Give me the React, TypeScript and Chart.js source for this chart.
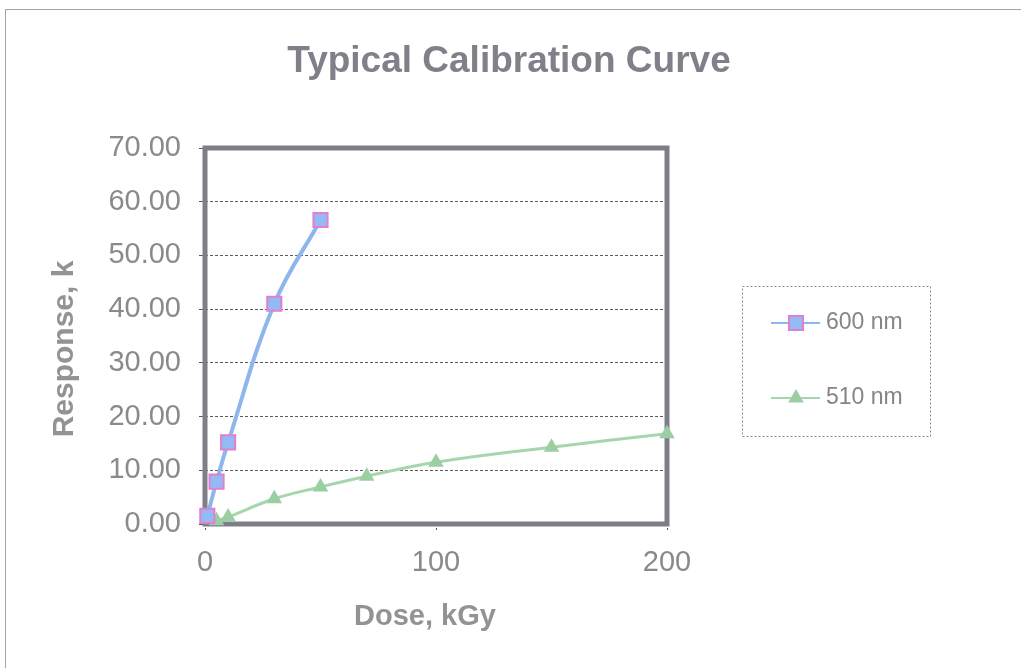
import { useEffect, useRef } from "react";
import { Chart, registerables } from "chart.js";

Chart.register(...registerables);

// ---------- data ----------
const chartTitle = "Typical Calibration Curve";
const xAxisTitle = "Dose, kGy";
const yAxisTitle = "Response, k";
const seriesLabels = ["600 nm", "510 nm"];

const dose600 = [1, 5, 10, 30, 50];
const resp600 = [1.5, 7.9, 15.2, 41.0, 56.6];

const dose510 = [5, 10, 30, 50, 70, 100, 150, 200];
const resp510 = [0.6, 1.3, 4.7, 6.9, 8.9, 11.5, 14.3, 16.8];

const xTickValues = [0, 100, 200];
const yTickValues = [0, 10, 20, 30, 40, 50, 60, 70];

// ---------- styles ----------
const FONT = "'Liberation Sans', Arial, Helvetica, sans-serif";
const BLUE_LINE = "#8fb6ec";
const BLUE_FILL = "#93baf2";
const PINK = "#e27fcf";
const GREEN_LINE = "#a6d6ae";
const GREEN_FILL = "#9ccea3";

function drawMarker(ctx: CanvasRenderingContext2D, style: string, x: number, y: number, r: number, fill: string, stroke: string, bw: number) {
  ctx.save();
  ctx.beginPath();
  if (style === "rect") {
    const s = r * Math.SQRT1_2;
    ctx.rect(x - s, y - s, 2 * s, 2 * s);
  } else {
    for (let i = 0; i < 3; i++) {
      const a = (i * 2 * Math.PI) / 3;
      const px = x + Math.sin(a) * r;
      const py = y - Math.cos(a) * r;
      if (i === 0) ctx.moveTo(px, py);
      else ctx.lineTo(px, py);
    }
    ctx.closePath();
  }
  ctx.fillStyle = fill;
  ctx.fill();
  if (bw > 0) {
    ctx.lineWidth = bw;
    ctx.strokeStyle = stroke;
    ctx.stroke();
  }
  ctx.restore();
}

const decorPlugin = {
  id: "decor",
  beforeDraw(chart: any) {
    const ctx: CanvasRenderingContext2D = chart.ctx;
    ctx.save();
    ctx.fillStyle = "#ffffff";
    ctx.fillRect(0, 0, chart.width, chart.height);
    // outer frame
    ctx.strokeStyle = "#a4a4a4";
    ctx.lineWidth = 1;
    ctx.strokeRect(5.5, 9.5, chart.width + 20, chart.height + 20);
    ctx.restore();
  },
  beforeDatasetsDraw(chart: any) {
    const ctx: CanvasRenderingContext2D = chart.ctx;
    const a = chart.chartArea;
    ctx.save();
    ctx.strokeStyle = "#7e7e88";
    ctx.lineWidth = 5;
    ctx.strokeRect(a.left, a.top, a.right - a.left, a.bottom - a.top);
    ctx.restore();
  },
  afterDraw(chart: any) {
    const ctx: CanvasRenderingContext2D = chart.ctx;
    ctx.save();
    // title
    ctx.fillStyle = "#80808a";
    ctx.font = `bold 37px ${FONT}`;
    ctx.textAlign = "center";
    ctx.textBaseline = "alphabetic";
    ctx.fillText(chartTitle, 509, 72);
    // x axis title
    ctx.fillStyle = "#939393";
    ctx.font = `bold 29px ${FONT}`;
    ctx.fillText(xAxisTitle, 425, 625);
    // y axis title
    ctx.save();
    ctx.translate(65, 349);
    ctx.rotate(-Math.PI / 2);
    ctx.font = `bold 30px ${FONT}`;
    ctx.textBaseline = "middle";
    ctx.fillText(yAxisTitle, 0, 0);
    ctx.restore();

    // legend
    ctx.setLineDash([2, 2]);
    ctx.strokeStyle = "#8a8a8a";
    ctx.lineWidth = 1;
    ctx.strokeRect(742.5, 286.5, 188, 150);
    ctx.setLineDash([]);
    const rows = [323, 398];
    chart.data.datasets.forEach((ds: any, i: number) => {
      const y = rows[i];
      ctx.strokeStyle = ds.borderColor;
      ctx.lineWidth = 2;
      ctx.beginPath();
      ctx.moveTo(771, y);
      ctx.lineTo(820, y);
      ctx.stroke();
      drawMarker(ctx, ds.pointStyle, 796, y, ds.pointRadius, ds.pointBackgroundColor, ds.pointBorderColor, ds.pointBorderWidth);
      ctx.fillStyle = "#858585";
      ctx.font = `23px ${FONT}`;
      ctx.textAlign = "left";
      ctx.textBaseline = "middle";
      ctx.fillText(ds.label, 826, y);
    });
    ctx.restore();
  },
};

export default function App() {
  const ref = useRef<HTMLCanvasElement | null>(null);

  useEffect(() => {
    if (!ref.current) return;
    const chart = new Chart(ref.current, {
      type: "line",
      data: {
        datasets: [
          {
            label: seriesLabels[0],
            data: dose600.map((d, i) => ({ x: d, y: resp600[i] })),
            borderColor: BLUE_LINE,
            backgroundColor: BLUE_FILL,
            borderWidth: 4,
            pointStyle: "rect",
            pointRadius: 10,
            pointHoverRadius: 10,
            pointBackgroundColor: BLUE_FILL,
            pointBorderColor: PINK,
            pointBorderWidth: 2,
            tension: 0.4,
            clip: false,
          } as any,
          {
            label: seriesLabels[1],
            data: dose510.map((d, i) => ({ x: d, y: resp510[i] })),
            borderColor: GREEN_LINE,
            backgroundColor: GREEN_FILL,
            borderWidth: 3,
            pointStyle: "triangle",
            pointRadius: 9,
            pointHoverRadius: 9,
            pointBackgroundColor: GREEN_FILL,
            pointBorderColor: GREEN_FILL,
            pointBorderWidth: 0,
            tension: 0.4,
            clip: false,
          } as any,
        ],
      },
      options: {
        animation: false,
        responsive: false,
        devicePixelRatio: 1,
        events: [],
        layout: { padding: { top: 148, right: 354, left: 0, bottom: 0 } },
        plugins: {
          legend: { display: false },
          title: { display: false },
          tooltip: { enabled: false },
        },
        scales: {
          x: {
            type: "linear",
            min: 0,
            max: 200,
            afterFit: (s: any) => {
              s.height = 144;
            },
            afterBuildTicks: (s: any) => {
              s.ticks = xTickValues.map((v) => ({ value: v }));
            },
            border: { display: false },
            grid: {
              drawOnChartArea: false,
              drawTicks: true,
              tickLength: 6,
              color: "#555555",
              lineWidth: 1,
              tickBorderDash: [2, 2],
            },
            ticks: {
              color: "#8a8a8a",
              font: { family: FONT, size: 29 },
              padding: 16,
              maxRotation: 0,
            },
          },
          y: {
            type: "linear",
            min: 0,
            max: 70,
            afterFit: (s: any) => {
              s.width = 205;
            },
            afterBuildTicks: (s: any) => {
              s.ticks = yTickValues.map((v) => ({ value: v }));
            },
            border: { display: false, dash: [3, 2] },
            grid: {
              drawOnChartArea: true,
              drawTicks: true,
              tickLength: 6,
              color: "#5a5a5a",
              lineWidth: 1,
            },
            ticks: {
              color: "#8a8a8a",
              font: { family: FONT, size: 29 },
              padding: 18,
              callback: (v: any) => Number(v).toFixed(2),
            },
          },
        },
      } as any,
      plugins: [decorPlugin],
    });
    return () => chart.destroy();
  }, []);

  return (
    <div style={{ position: "absolute", left: 0, top: 0, width: 1021, height: 668, background: "#fff" }}>
      <canvas ref={ref} width={1021} height={668} style={{ display: "block" }} />
    </div>
  );
}
